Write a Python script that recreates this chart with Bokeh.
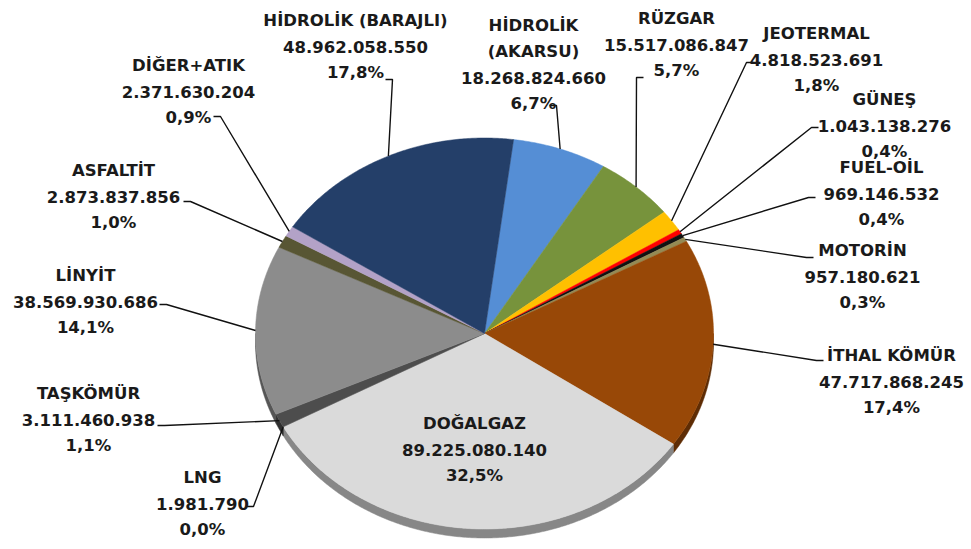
import numpy as np
from bokeh.plotting import figure
from bokeh.models import Range1d
from bokeh.core.properties import value
from bokeh.embed import file_html
from bokeh.resources import INLINE

# ---- data (clockwise, starting at the top) ----
names = ["HİDROLİK\n(AKARSU)", "RÜZGAR", "JEOTERMAL", "GÜNEŞ", "FUEL-OİL", "MOTORİN",
         "İTHAL KÖMÜR", "DOĞALGAZ", "LNG", "TAŞKÖMÜR", "LİNYİT", "ASFALTİT",
         "DİĞER+ATIK", "HİDROLİK (BARAJLI)"]
values = [18268824660, 15517086847, 4818523691, 1043138276, 969146532, 957180621,
          47717868245, 89225080140, 1981790, 3111460938, 38569930686, 2873837856,
          2371630204, 48962058550]
pct_labels = ["6,7%", "5,7%", "1,8%", "0,4%", "0,4%", "0,3%", "17,4%", "32,5%",
              "0,0%", "1,1%", "14,1%", "1,0%", "0,9%", "17,8%"]
colors = ["#558ed5", "#77933c", "#ffc000", "#ff0000", "#111111", "#948a54",
          "#984807", "#dadada", "#bfbfbf", "#4d4d4d", "#8c8c8c", "#585634",
          "#b3a2c7", "#243f69"]

# ---- layout (pixel space of the page) ----
CX, CY, RX, RY, DEPTH = 484.0, 333.0, 229.0, 195.5, 9.0
START_DEG = 7.3
# label centre x, first line y
label_pos = [(533, 25), (676, 18), (816, 33), (884, 99), (881, 167), (862, 250),
             (891, 355), (474, 423), (202, 477), (88, 393), (85, 275), (113, 170),
             (188, 65), (355, 20)]
# leader line start (next to label) and tick direction; None = no leader
leader_start = [(549, 105, 1), (643, 77, -1), (753, 62, -1), (818, 127, -1),
                (815, 197, -1), (813, 257, -1), (823, 360, -1), None,
                (246, 506, 1), (157, 425, 1), (159, 304, 1), (183, 201, 1),
                (213, 116, 1), (385, 79, 1)]
LINE_H = 26

def pt(phi_deg, dy=0.0):
    r = np.radians(phi_deg)
    return CX + RX * np.sin(r), CY - RY * np.cos(r) + dy

total = float(sum(values))
spans = [v / total * 360.0 for v in values]
bounds = START_DEG + np.concatenate([[0], np.cumsum(spans)])

def darker(hexc, f=0.62):
    h = hexc.lstrip("#")
    r, g, b = (int(h[i:i + 2], 16) for i in (0, 2, 4))
    return "#%02x%02x%02x" % (int(r * f), int(g * f), int(b * f))

face_xs, face_ys, side_xs, side_ys, side_cols = [], [], [], [], []
for i, (a1, a2) in enumerate(zip(bounds[:-1], bounds[1:])):
    n = max(3, int((a2 - a1) * 2) + 2)
    ang = np.linspace(a1, a2, n)
    x, y = pt(ang)
    face_xs.append([CX] + list(x))
    face_ys.append([CY] + list(y))
    for lo, hi in ((90, 270), (450, 630)):
        s1, s2 = max(a1, lo), min(a2, hi)
        if s2 > s1:
            sa = np.linspace(s1, s2, max(3, int((s2 - s1) * 2) + 2))
            tx_, ty_ = pt(sa)
            bx, by = pt(sa[::-1], DEPTH)
            side_xs.append(list(tx_) + list(bx))
            side_ys.append(list(ty_) + list(by))
            side_cols.append(darker(colors[i]))

W, H = 971, 549
p = figure(width=W, height=H, x_range=Range1d(0, W), y_range=Range1d(H, 0),
           output_backend="svg", toolbar_location=None, min_border=0,
           x_axis_type=None, y_axis_type=None)
p.grid.visible = False
p.outline_line_color = None
p.background_fill_color = "white"

p.patches(side_xs, side_ys, fill_color=side_cols, line_color=side_cols, line_width=0.5)
p.patches(face_xs, face_ys, fill_color=colors, line_color=colors, line_width=0.5)

# leader lines
lx, ly = [], []
for i, ls in enumerate(leader_start):
    if ls is None:
        continue
    sx, sy, d = ls
    mid = (bounds[i] + bounds[i + 1]) / 2.0
    ex, ey = pt(mid)
    lx.append([sx, sx + 7 * d, float(ex)])
    ly.append([sy, sy, float(ey)])
p.multi_line(lx, ly, line_color="#111111", line_width=1.4)

# labels
tx, ty, tt = [], [], []
for i, name in enumerate(names):
    lines = name.split("\n") + [f"{values[i]:,}".replace(",", "."), pct_labels[i]]
    x0, y0 = label_pos[i]
    for k, s in enumerate(lines):
        tx.append(x0)
        ty.append(y0 + k * LINE_H)
        tt.append(s)
p.text(x=tx, y=ty, text=tt, text_align="center", text_baseline="middle",
       text_font=value("DejaVu Sans"), text_font_style="bold",
       text_font_size="16.5px", text_color="#1a1a1a")

open("out.html", "w").write(file_html(p, INLINE))
